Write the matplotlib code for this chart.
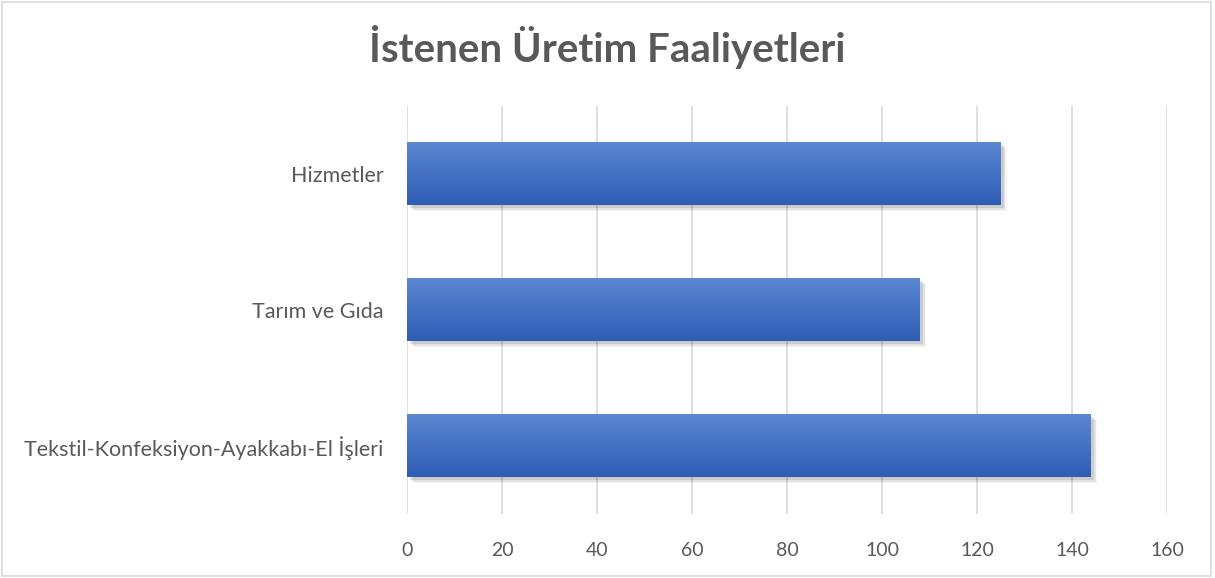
import matplotlib
matplotlib.use("Agg")
import matplotlib.pyplot as plt
import numpy as np
from matplotlib.patches import Rectangle
from matplotlib.colors import LinearSegmentedColormap

categories = ["Tekstil-Konfeksiyon-Ayakkabı-El İşleri", "Tarım ve Gıda", "Hizmetler"]
values = [144, 108, 125]
xticks = [0, 20, 40, 60, 80, 100, 120, 140, 160]
title = "İstenen Üretim Faaliyetleri"

plt.rcParams['font.family'] = ['Lato', 'DejaVu Sans']
txt = "#595959"

fig = plt.figure(figsize=(12.15, 5.78), dpi=100)
fig.patches.append(Rectangle((0.002, 0.003), 0.995, 0.993, transform=fig.transFigure,
                             fill=False, edgecolor="#d9d9d9", linewidth=1.2))
ax = fig.add_axes([0.335, 0.111, 0.6255, 0.706])

cmap = LinearSegmentedColormap.from_list("g", ["#2E5DB5", "#4472C4", "#5D87D0"])
bh = 0.463
ypos = np.arange(len(categories))
ax.set_xlim(0, 160)
ax.set_ylim(-0.5, len(categories) - 0.5)
for y, v in zip(ypos, values):
    # shadow
    for k, a in enumerate([0.10, 0.07, 0.04]):
        sh = Rectangle((0.6 + 0.35 * k, y - bh / 2 - 0.02 - 0.012 * k), v, bh,
                       facecolor="black", alpha=a, edgecolor="none", zorder=2)
        ax.add_patch(sh)
    r = Rectangle((0, y - bh / 2), v, bh, facecolor="none", edgecolor="none", zorder=3)
    ax.add_patch(r)
    grad = np.linspace(0, 1, 100).reshape(-1, 1)
    im = ax.imshow(grad, cmap=cmap, aspect="auto", origin="lower",
                   extent=(0, v, y - bh / 2, y + bh / 2), zorder=3)
    im.set_clip_path(r)
ax.set_xlim(0, 160)
ax.set_ylim(-0.5, len(categories) - 0.5)

ax.set_yticks(ypos)
ax.set_yticklabels(categories, fontsize=15.5, color=txt)
ax.set_xticks(xticks)
ax.set_xticklabels([str(t) for t in xticks], fontsize=14, color=txt)
ax.tick_params(axis="y", length=0, pad=17)
ax.tick_params(axis="x", length=0, pad=20)
ax.grid(axis="x", color="#d9d9d9", linewidth=1.2, zorder=0)
ax.set_axisbelow(True)
for s in ax.spines.values():
    s.set_visible(False)

fig.text(0.5, 0.918, title, ha="center", va="center", fontsize=29, fontweight="bold", color=txt)

fig.savefig("out.png", dpi=100, facecolor="white")
